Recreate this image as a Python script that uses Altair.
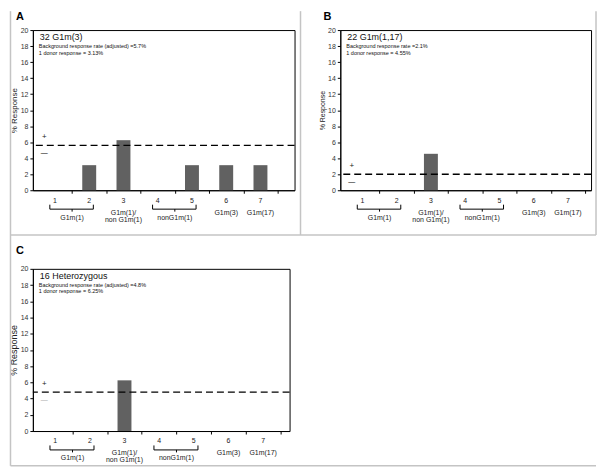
import altair as alt
import pandas as pd

# ---------------- data ----------------
categories = [1, 2, 3, 4, 5, 6, 7]
resp_A = [0, 3.13, 6.25, 0, 3.13, 3.13, 3.13]
resp_B = [0, 0, 4.55, 0, 0, 0, 0]
resp_C = [0, 0, 6.25, 0, 0, 0, 0]
background = {"A": 5.6, "B": 2.0, "C": 4.8}

titles = {"A": "32 G1m(3)", "B": "22 G1m(1,17)", "C": "16 Heterozygous"}
notes = {
    "A": ["Background response rate (adjusted) =5.7%", "1 donor response = 3.13%"],
    "B": ["Background response rate =2.1%", "1 donor response = 4.55%"],
    "C": ["Background response rate (adjusted) =4.8%", "1 donor response =  6.25%"],
}

y_ticks = [0, 2, 4, 6, 8, 10, 12, 14, 16, 18, 20]
boundary_ticks = [1.5, 2.5, 3.5, 4.5, 5.5, 6.5, 7.5]

bracket_labels = ["G1m(1)", "nonG1m(1)"]
bracket_lo = [1, 4]
bracket_hi = [2, 5]
single_labels = ["G1m(1)/\nnon G1m(1)", "G1m(3)", "G1m(17)"]
single_pos = [3, 6, 7]

FONT = "Liberation Sans"
BAR = "#616161"
SEP = "#c4c4c4"
TXT = "#1a1a1a"


def one():
    return pd.DataFrame({"d": [0]})


def panel(letter, values, xmax, width, height, ytitle_size, minus_color, deco):
    xs = alt.Scale(domain=[0.5, xmax], nice=False, zero=False)
    ys = alt.Scale(domain=[0, 20], nice=False, zero=True)
    xaxis = alt.Axis(values=boundary_ticks, labels=False, ticks=True, tickSize=3,
                     title=None, grid=False, domainColor="black", tickColor="black")
    yaxis = alt.Axis(values=y_ticks, title="% Response", titleFontSize=ytitle_size,
                     titleFontWeight="normal", titleFont=FONT, labelFont=FONT,
                     labelFontSize=7, tickSize=3, labelPadding=2, titlePadding=2,
                     grid=False, domainColor="black", tickColor="black",
                     labelColor="#333333", titleColor="#222222")

    def X(f):
        return alt.X(f, type="quantitative", scale=xs, axis=xaxis)

    def Y(f):
        return alt.Y(f, type="quantitative", scale=ys, axis=yaxis)

    df = pd.DataFrame({"cat": categories, "resp": values})
    bg = pd.DataFrame({"resp": [background[letter]]})

    layers = []
    layers.append(alt.Chart(df).mark_bar(size=14, color=BAR).encode(x=X("cat"), y=Y("resp")))
    layers.append(alt.Chart(bg).mark_rule(color="black", strokeWidth=1.4, strokeDash=[7, 4])
                  .encode(y=Y("resp")))
    layers.append(alt.Chart(bg).mark_text(text="+", fontSize=8, font=FONT, dy=-8, baseline="middle",
                                          color=TXT)
                  .encode(y=Y("resp"), x=alt.value(11.5)))
    layers.append(alt.Chart(bg).mark_text(text="—", fontSize=7, font=FONT, dy=8, baseline="middle",
                                          color=minus_color)
                  .encode(y=Y("resp"), x=alt.value(11.5)))
    # category numbers
    layers.append(alt.Chart(df).mark_text(fontSize=7, font=FONT, baseline="middle", color=TXT)
                  .encode(x=X("cat"), y=alt.value(height + 10.5), text="cat:N"))
    # brackets
    br = pd.DataFrame({"lo": bracket_lo, "hi": bracket_hi, "label": bracket_labels})
    brc = alt.Chart(br).transform_calculate(
        a="datum.lo - 0.15", b="datum.hi + 0.12", m="(datum.lo + datum.hi) / 2")
    layers.append(brc.mark_rule(color="black", strokeWidth=1)
                  .encode(x=X("a"), x2="b:Q", y=alt.value(height + 19)))
    layers.append(brc.mark_rule(color="black", strokeWidth=1)
                  .encode(x=X("a"), y=alt.value(height + 14.5), y2=alt.value(height + 19)))
    layers.append(brc.mark_rule(color="black", strokeWidth=1)
                  .encode(x=X("b"), y=alt.value(height + 14.5), y2=alt.value(height + 19)))
    layers.append(brc.mark_rule(color="black", strokeWidth=1)
                  .encode(x=X("m"), y=alt.value(height + 19), y2=alt.value(height + 21.5)))
    layers.append(brc.mark_text(fontSize=7, font=FONT, baseline="top", color=TXT)
                  .encode(x=X("m"), y=alt.value(height + 23.5), text="label:N"))
    sg = pd.DataFrame({"pos": single_pos, "label": single_labels})
    layers.append(alt.Chart(sg).mark_text(fontSize=7, font=FONT, baseline="top", lineBreak="\n",
                                          lineHeight=7, color=TXT)
                  .encode(x=X("pos"), y=alt.value(height + 18.5), text="label:N"))
    # in-plot title and notes
    layers.append(alt.Chart(one()).mark_text(text=titles[letter], fontSize=9, font=FONT,
                                             align="left", baseline="middle", color="#111")
                  .encode(x=alt.value(7), y=alt.value(7)))
    for i, line in enumerate(notes[letter]):
        layers.append(alt.Chart(one()).mark_text(text=line, fontSize=5.5, font=FONT,
                                                 align="left", baseline="middle", color="#111")
                      .encode(x=alt.value(6), y=alt.value(16.5 + 6.2 * i)))
    # panel letter
    ly = -10 if letter != "C" else -15
    layers.append(alt.Chart(one()).mark_text(text=letter, fontSize=11, fontWeight="bold", font=FONT,
                                             align="center", baseline="alphabetic", color="black")
                  .encode(x=alt.value(-13), y=alt.value(ly)))
    # decorative panel separators
    for (x1, x2, y1, y2) in deco:
        layers.append(alt.Chart(one()).mark_rule(color=SEP, strokeWidth=1.5)
                      .encode(x=alt.value(x1), x2=alt.value(x2), y=alt.value(y1), y2=alt.value(y2)))

    return alt.layer(*layers).properties(width=width, height=height)


A = panel("A", resp_A, 7.85, 263, 161, 8, "black",
          [(-22.5, -22.5, -19, 206), (269, 269, -19, 206), (-22.5, 566, 206, 206)])
B = panel("B", resp_B, 7.53, 252, 161, 7, "black",
          [(257, 257, -19, 206)])
C = panel("C", resp_C, 7.62, 258, 163, 9, "#aaaaaa",
          [(-22.5, -22.5, -34, 198), (-22.5, 566, 198, 198)])

chart = alt.concat(A, B, C, columns=2, spacing=alt.RowColnumber(row=79, column=46),
                   bounds="flush", align="each").properties(
    padding={"left": 0, "top": 0, "right": 0, "bottom": 0}
).configure(background="white", font=FONT,
            view=alt.ViewConfig(stroke="black", strokeWidth=1))

chart.save("out.html", embed_options={"renderer": "svg", "actions": False})
